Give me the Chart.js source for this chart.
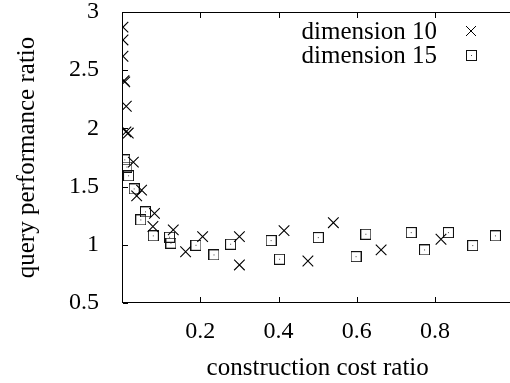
<!DOCTYPE html>
<html>
<head>
<meta charset="utf-8">
<script src="https://cdn.jsdelivr.net/npm/chart.js@4.4.0/dist/chart.umd.min.js"></script>
<style>
html, body { margin: 0; padding: 0; background: #fff; overflow: hidden; }
#wrap { position: relative; width: 522px; height: 383px; }
#plotFrame { position: absolute; border: 1px solid #000; box-sizing: border-box; pointer-events: none; }
</style>
</head>
<body>
<div id="wrap">
<canvas id="perfChart" width="522" height="383"></canvas>
<div id="plotFrame"></div>
</div>
<script>
// dimension 10 (crosses)
let dim10X = [0.0025, 0.0025, 0.0025, 0.005, 0.007, 0.011, 0.01, 0.016, 0.029, 0.05, 0.0375, 0.083, 0.079, 0.131, 0.1625, 0.206, 0.3, 0.3, 0.414, 0.475, 0.54, 0.662, 0.815]
let dim10Y = [2.87, 2.76, 2.62, 2.41, 2.40, 2.19, 1.97, 1.96, 1.71, 1.47, 1.42, 1.27, 1.157, 1.128, 0.94, 1.07, 1.07, 0.827, 1.122, 0.861, 1.19, 0.956, 1.048]
// dimension 15 (boxed dots)
let dim15X = [0.007, 0.0125, 0.0167, 0.031, 0.06, 0.048, 0.08, 0.1215, 0.125, 0.189, 0.235, 0.2775, 0.381, 0.4025, 0.5015, 0.598, 0.623, 0.739, 0.773, 0.834, 0.896, 0.954]
let dim15Y = [1.73, 1.668, 1.593, 1.48, 1.283, 1.214, 1.077, 1.065, 1.014, 0.996, 0.913, 1.005, 1.036, 0.876, 1.062, 0.898, 1.091, 1.105, 0.956, 1.105, 0.993, 1.077]

let seriesLabels = ['dimension 10', 'dimension 15']
let xTicks = [0.2, 0.4, 0.6, 0.8]
let yTicks = [0.5, 1, 1.5, 2, 2.5, 3]
let xMin = 0, xMax = 1
let yMin = 0.5, yMax = 3

let fontFamily = '"Liberation Serif", "Times New Roman", serif'
let tickSize = 24
let textSize = 25

// boxed dot marker
function makeBox() {
    let c = document.createElement('canvas')
    c.width = 11; c.height = 11
    let g = c.getContext('2d')
    g.strokeStyle = '#111'
    g.lineWidth = 1
    g.strokeRect(0.5, 0.5, 10, 10)
    g.fillStyle = '#444'
    g.fillRect(5, 5, 1, 1)
    return c
}
let boxImg = makeBox()

function zip(xs, ys) {
    return xs.map((x, i) => ({ x: x, y: ys[i] }))
}

// inward ticks (gnuplot style) and legend
let framePlugin = {
    id: 'frame',
    afterDraw(chart) {
        let ctx = chart.ctx
        let xs = chart.scales.x
        let ys = chart.scales.y
        let left = Math.round(xs.getPixelForValue(xMin))
        let top = Math.round(ys.getPixelForValue(yMax))
        let bottom = Math.round(ys.getPixelForValue(yMin))
        ctx.save()
        ctx.fillStyle = '#000'
        xTicks.forEach(v => {
            let px = Math.round(xs.getPixelForValue(v))
            ctx.fillRect(px, bottom - 6, 1, 5)
            ctx.fillRect(px, top + 1, 1, 5)
        })
        yTicks.forEach(v => {
            let py = Math.round(ys.getPixelForValue(v))
            ctx.fillRect(left + 1, py, 5, 1)
        })

        // legend
        ctx.strokeStyle = '#000'
        ctx.lineWidth = 1
        ctx.font = textSize + 'px ' + fontFamily
        ctx.textAlign = 'right'
        ctx.textBaseline = 'alphabetic'
        seriesLabels.forEach((lbl, i) => {
            let base = 39 + i * 24
            ctx.fillText(lbl, 437, base)
            let cy = base - 8
            if (i === 0) {
                ctx.beginPath()
                ctx.moveTo(466, cy - 5); ctx.lineTo(476, cy + 5)
                ctx.moveTo(476, cy - 5); ctx.lineTo(466, cy + 5)
                ctx.stroke()
            } else {
                ctx.drawImage(boxImg, 466, Math.round(cy) - 5)
            }
        })
        ctx.restore()

        // place the frame box on the plot area
        let frame = document.getElementById('plotFrame')
        let right = Math.round(xs.getPixelForValue(xMax))
        frame.style.left = left + 'px'
        frame.style.top = top + 'px'
        frame.style.width = (right - left + 1) + 'px'
        frame.style.height = (bottom - top) + 'px'
    }
}

let noPad = s => { s.paddingTop = 0; s.paddingBottom = 0; s.paddingLeft = 0; s.paddingRight = 0 }

let perfChart = new Chart(document.getElementById('perfChart').getContext('2d'), {
    type: 'scatter',
    data: {
        datasets: [{
            label: seriesLabels[0],
            data: zip(dim10X, dim10Y),
            pointStyle: 'crossRot',
            pointRadius: 7.5,
            borderWidth: 1.1,
            borderColor: '#000'
        }, {
            label: seriesLabels[1],
            data: zip(dim15X, dim15Y),
            pointStyle: boxImg,
            borderColor: '#000'
        }]
    },
    options: {
        responsive: false,
        animation: false,
        events: [],
        layout: { padding: { top: 12, left: 0, right: 0, bottom: 0 } },
        plugins: {
            legend: { display: false },
            tooltip: { enabled: false }
        },
        scales: {
            x: {
                type: 'linear',
                min: xMin,
                max: xMax,
                border: { display: false },
                grid: { display: false },
                ticks: {
                    color: '#000',
                    padding: 9,
                    font: { family: fontFamily, size: tickSize, lineHeight: 1 },
                    callback: v => String(v)
                },
                title: {
                    display: true,
                    text: 'construction cost ratio',
                    color: '#000',
                    font: { family: fontFamily, size: textSize, lineHeight: 1 },
                    padding: { top: 0, bottom: 2 }
                },
                afterBuildTicks: s => { s.ticks = xTicks.map(v => ({ value: v })) },
                afterFit: s => { s.height = 80; noPad(s) }
            },
            y: {
                min: yMin,
                max: yMax,
                border: { display: false },
                grid: { display: false },
                ticks: {
                    color: '#000',
                    padding: 15,
                    font: { family: fontFamily, size: tickSize, lineHeight: 1 },
                    callback: v => String(v)
                },
                title: {
                    display: true,
                    text: 'query performance ratio',
                    color: '#000',
                    font: { family: fontFamily, size: textSize, lineHeight: 1 },
                    padding: { top: 15, bottom: 0 }
                },
                afterBuildTicks: s => { s.ticks = yTicks.map(v => ({ value: v })) },
                afterFit: s => { s.width = 122; noPad(s) }
            }
        }
    },
    plugins: [framePlugin]
});
</script>
</body>
</html>
